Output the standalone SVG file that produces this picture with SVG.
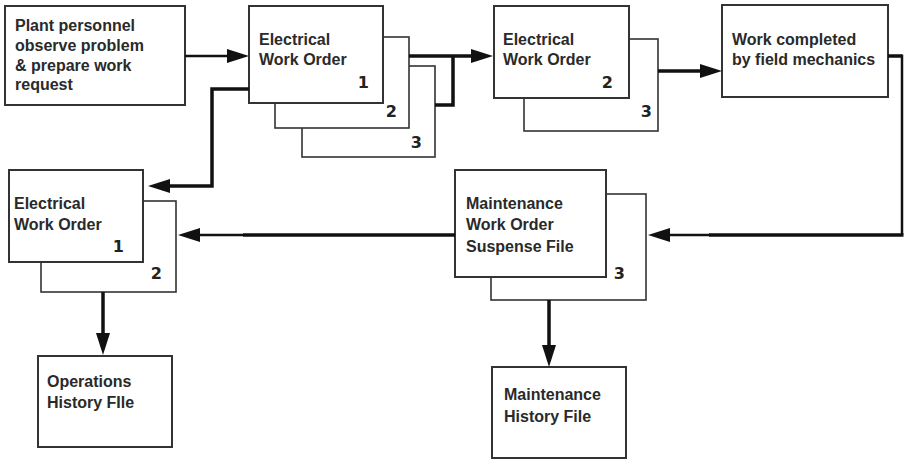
<svg xmlns="http://www.w3.org/2000/svg" width="904" height="459" viewBox="0 0 904 459">
<style>
.box{fill:#fff;stroke:#333;stroke-width:2}
.back{fill:#fff;stroke:#333;stroke-width:1.6}
.t{font-family:"Liberation Sans",Arial,sans-serif;font-weight:bold;font-size:16px;fill:#2a2a2a}
.n{font-family:"DejaVu Sans",sans-serif;font-weight:bold;font-size:16px;fill:#222;text-anchor:end}
.c{fill:none;stroke:#111;stroke-width:3.5;stroke-linejoin:miter}
.c2{fill:none;stroke:#111;stroke-width:2.5}
</style>
<defs>
<marker id="ah" viewBox="0 0 22 14" refX="0" refY="7" markerWidth="22" markerHeight="14" markerUnits="userSpaceOnUse" orient="auto">
<path d="M0,0 L22,7 L0,14 Z" fill="#111"/>
</marker>
</defs>
<rect width="904" height="459" fill="#fff"/>
<g id="plant">
<rect class="box" x="5" y="6" width="180" height="99"/>
<text class="t" x="15" y="31">Plant personnel</text>
<text class="t" x="15" y="51">observe problem</text>
<text class="t" x="15" y="71">&amp; prepare work</text>
<text class="t" x="15" y="90">request</text>
</g>
<g id="ewo-top">
<rect class="back" x="302" y="66" width="133" height="91"/>
<text class="n" x="422" y="148">3</text>
<rect class="back" x="275" y="37" width="134" height="91"/>
<text class="n" x="397" y="117">2</text>
<rect class="box" x="249" y="6" width="134" height="97"/>
<text class="t" x="259" y="45">Electrical</text>
<text class="t" x="259" y="65">Work Order</text>
<text class="n" x="369" y="88">1</text>
</g>
<g id="ewo-mid">
<rect class="back" x="524" y="39" width="134" height="92"/>
<text class="n" x="652" y="117">3</text>
<rect class="box" x="494" y="6" width="135" height="92"/>
<text class="t" x="503" y="45">Electrical</text>
<text class="t" x="503" y="65">Work Order</text>
<text class="n" x="613" y="88">2</text>
</g>
<g id="work-completed">
<rect class="box" x="722" y="5" width="166" height="92"/>
<text class="t" x="732" y="45">Work completed</text>
<text class="t" x="732" y="65">by field mechanics</text>
</g>
<g id="maint-suspense">
<rect class="back" x="491" y="194" width="155" height="106"/>
<text class="n" x="625" y="279">3</text>
<rect class="box" x="455" y="170" width="151" height="107"/>
<text class="t" x="466" y="209">Maintenance</text>
<text class="t" x="466" y="230">Work Order</text>
<text class="t" x="466" y="252">Suspense File</text>
</g>
<g id="ewo-left">
<rect class="back" x="41" y="201" width="135" height="91"/>
<text class="n" x="162" y="279">2</text>
<rect class="box" x="9" y="170" width="134" height="92"/>
<text class="t" x="14" y="209">Electrical</text>
<text class="t" x="14" y="230">Work Order</text>
<text class="n" x="124" y="252">1</text>
</g>
<g id="ops-history">
<rect class="box" x="38" y="356" width="134" height="91"/>
<text class="t" x="47" y="387">Operations</text>
<text class="t" x="47" y="408">History FIle</text>
</g>
<g id="maint-history">
<rect class="box" x="492" y="367" width="134" height="91"/>
<text class="t" x="504" y="400">Maintenance</text>
<text class="t" x="504" y="422">History File</text>
</g>
<g id="connectors">
<path class="c2" d="M185,56 H227" stroke-width="3" marker-end="url(#ah)"/>
<path class="c" d="M249,89 H212 V186 H170" marker-end="url(#ah)"/>
<path class="c" d="M409,56 H471" marker-end="url(#ah)"/>
<path class="c" d="M435,105 H453 V56"/>
<path class="c" d="M658,71 H700" marker-end="url(#ah)"/>
<path class="c" d="M888,56 H902"/>
<path class="c2" d="M902,54.5 V235"/>
<path class="c" d="M903.5,235 H709"/>
<path class="c2" d="M710,235 H670" marker-end="url(#ah)"/>
<path class="c" d="M455,235 H243"/>
<path class="c2" d="M244,235 H200" marker-end="url(#ah)"/>
<path class="c" d="M103,292 V333" marker-end="url(#ah)"/>
<path class="c" d="M549,300 V345" marker-end="url(#ah)"/>
</g>
</svg>
